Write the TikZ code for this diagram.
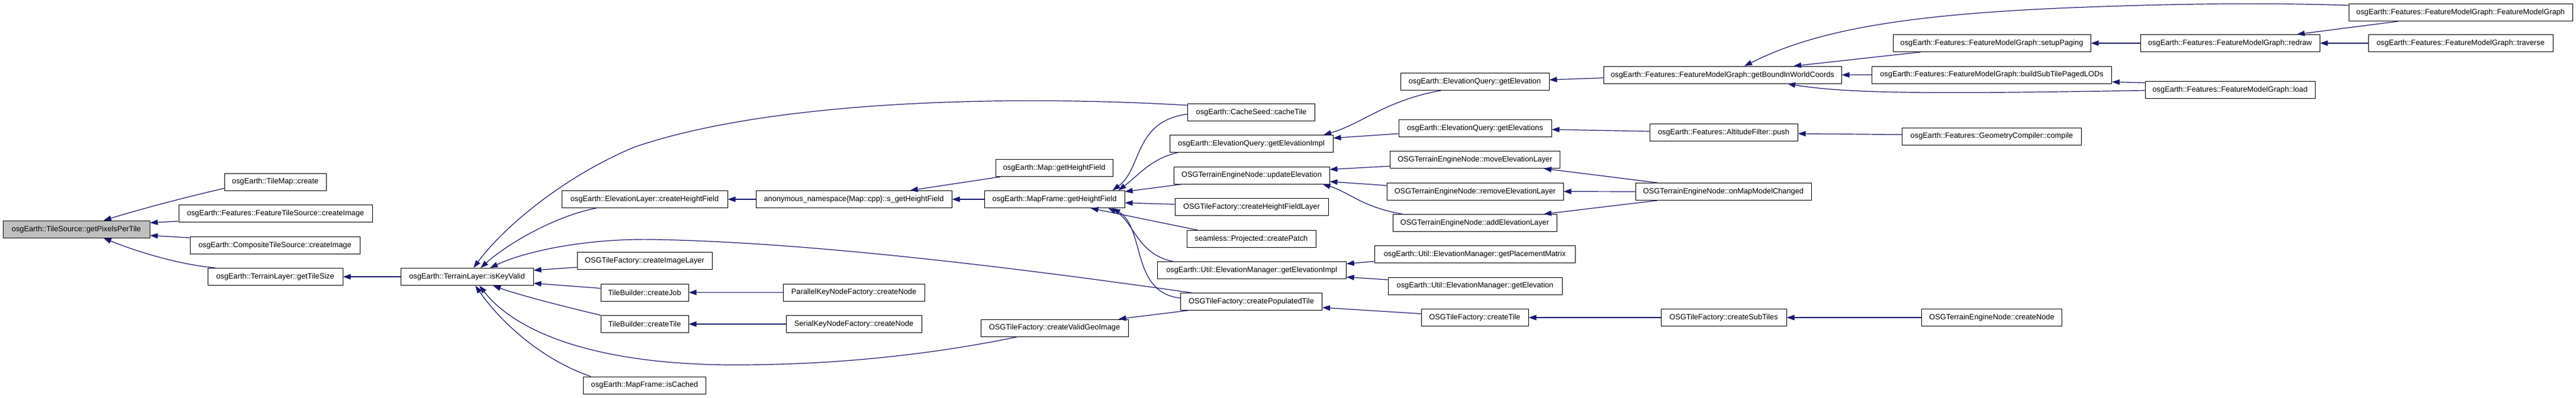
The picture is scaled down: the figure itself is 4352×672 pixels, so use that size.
\documentclass[tikz,border=0pt]{standalone}
\usepackage{fontspec}
\setmainfont{Liberation Sans}
\usetikzlibrary{arrows.meta,calc}
\definecolor{edgeblue}{HTML}{191970}
\definecolor{mainfill}{HTML}{BFBFBF}
\begin{document}
\begin{tikzpicture}[x=1pt,y=-1pt,
  fnbox/.style={draw=black, line width=1pt, fill=white, minimum height=29pt, inner sep=0pt, font=\fontsize{12.8}{15}\selectfont},
  edge/.style={draw=edgeblue, line width=1.2pt, arrows={Triangle[length=13pt,width=9pt]-}}]
\fill[white] (0,0) rectangle (4352,672);
\useasboundingbox (0,0) rectangle (4352,672);
% nodes
\node[fnbox, fill=mainfill, minimum width=248pt] (n0) at (129,387.7) {osgEarth::TileSource::getPixelsPerTile};
\node[fnbox, minimum width=172pt] (n1) at (465,307.5) {osgEarth::TileMap::create};
\node[fnbox, minimum width=327pt] (n2) at (465.5,361) {osgEarth::Features::FeatureTileSource::createImage};
\node[fnbox, minimum width=287pt] (n3) at (464.5,415) {osgEarth::CompositeTileSource::createImage};
\node[fnbox, minimum width=228pt] (n4) at (465,468) {osgEarth::TerrainLayer::getTileSize};
\node[fnbox, minimum width=224pt] (n5) at (789,468) {osgEarth::TerrainLayer::isKeyValid};
\node[fnbox, minimum width=280pt] (n6) at (1089,337) {osgEarth::ElevationLayer::createHeightField};
\node[fnbox, minimum width=331pt] (n7) at (1442.5,337) {anonymous\_namespace\{Map::cpp\}::s\_getHeightField};
\node[fnbox, minimum width=198pt] (n8) at (1781,284) {osgEarth::Map::getHeightField};
\node[fnbox, minimum width=237pt] (n9) at (1781.5,337) {osgEarth::MapFrame::getHeightField};
\node[fnbox, minimum width=228pt] (n10) at (1089,441) {OSGTileFactory::createImageLayer};
\node[fnbox, minimum width=148pt] (n11) at (1089,494.5) {TileBuilder::createJob};
\node[fnbox, minimum width=239pt] (n12) at (1442.5,494.5) {ParallelKeyNodeFactory::createNode};
\node[fnbox, minimum width=148pt] (n13) at (1089,548) {TileBuilder::createTile};
\node[fnbox, minimum width=229pt] (n14) at (1442.5,548) {SerialKeyNodeFactory::createNode};
\node[fnbox, minimum width=249pt] (n15) at (1781.5,554.5) {OSGTileFactory::createValidGeoImage};
\node[fnbox, minimum width=207pt] (n16) at (1089,651.5) {osgEarth::MapFrame::isCached};
\node[fnbox, minimum width=215pt] (n17) at (2114,190) {osgEarth::CacheSeed::cacheTile};
\node[fnbox, minimum width=276pt] (n18) at (2114,243) {osgEarth::ElevationQuery::getElevationImpl};
\node[fnbox, minimum width=263pt] (n19) at (2114.5,296.5) {OSGTerrainEngineNode::updateElevation};
\node[fnbox, minimum width=259pt] (n20) at (2114.5,350.4) {OSGTileFactory::createHeightFieldLayer};
\node[fnbox, minimum width=218pt] (n21) at (2114,404) {seamless::Projected::createPatch};
\node[fnbox, minimum width=319pt] (n22) at (2114.7,457) {osgEarth::Util::ElevationManager::getElevationImpl};
\node[fnbox, minimum width=239pt] (n23) at (2114,510) {OSGTileFactory::createPopulatedTile};
\node[fnbox, minimum width=251pt] (n24) at (2491.5,138) {osgEarth::ElevationQuery::getElevation};
\node[fnbox, minimum width=258pt] (n25) at (2492,217) {osgEarth::ElevationQuery::getElevations};
\node[fnbox, minimum width=287pt] (n26) at (2492,270) {OSGTerrainEngineNode::moveElevationLayer};
\node[fnbox, minimum width=298pt] (n27) at (2492,323.7) {OSGTerrainEngineNode::removeElevationLayer};
\node[fnbox, minimum width=277pt] (n28) at (2491.5,377) {OSGTerrainEngineNode::addElevationLayer};
\node[fnbox, minimum width=339pt] (n29) at (2491.5,430) {osgEarth::Util::ElevationManager::getPlacementMatrix};
\node[fnbox, minimum width=294pt] (n30) at (2492,483.5) {osgEarth::Util::ElevationManager::getElevation};
\node[fnbox, minimum width=181pt] (n31) at (2491.5,537) {OSGTileFactory::createTile};
\node[fnbox, minimum width=402pt] (n32) at (2910,126.7) {osgEarth::Features::FeatureModelGraph::getBoundInWorldCoords};
\node[fnbox, minimum width=250pt] (n33) at (2912,224) {osgEarth::Features::AltitudeFilter::push};
\node[fnbox, minimum width=297pt] (n34) at (2911.5,324) {OSGTerrainEngineNode::onMapModelChanged};
\node[fnbox, minimum width=212pt] (n35) at (2912,537) {OSGTileFactory::createSubTiles};
\node[fnbox, minimum width=334pt] (n36) at (3365,73) {osgEarth::Features::FeatureModelGraph::setupPaging};
\node[fnbox, minimum width=405pt] (n37) at (3365,126.5) {osgEarth::Features::FeatureModelGraph::buildSubTilePagedLODs};
\node[fnbox, minimum width=303pt] (n38) at (3365,230.6) {osgEarth::Features::GeometryCompiler::compile};
\node[fnbox, minimum width=237pt] (n39) at (3365,537) {OSGTerrainEngineNode::createNode};
\node[fnbox, minimum width=303pt] (n40) at (3767.5,73) {osgEarth::Features::FeatureModelGraph::redraw};
\node[fnbox, minimum width=287pt] (n41) at (3767.5,152) {osgEarth::Features::FeatureModelGraph::load};
\node[fnbox, minimum width=378pt] (n42) at (4157,21) {osgEarth::Features::FeatureModelGraph::FeatureModelGraph};
\node[fnbox, minimum width=312pt] (n43) at (4157,73) {osgEarth::Features::FeatureModelGraph::traverse};
% edges (arrow at callee)
\draw[edge] ($(n0.north)+(46,0)$) .. controls (250,350) and (320,332) .. ($(n1.west)+(0,11)$);
\draw[edge] ($(n0.east)+(0,-11)$) -- ($(n2.west)+(0,13)$);
\draw[edge] ($(n0.east)+(0,10.5)$) -- ($(n3.west)+(0,-13)$);
\draw[edge] ($(n0.south)+(46,0)$) .. controls (230,425) and (300,447) .. ($(n4.north)+(-101,0)$);
\draw[edge] (n4.east) -- (n5.west);
\draw[edge] ($(n5.north)+(11,0)$) .. controls (850,385) and (950,300) .. (1071,249) .. controls (1300,170) and (1700,160) .. ($(n17.west)+(0,-12)$);
\draw[edge] ($(n5.north)+(23,0)$) .. controls (860,410) and (940,365) .. ($(n6.south)+(-82,0)$);
\draw[edge] ($(n5.north)+(39,0)$) .. controls (880,428) and (980,403) .. (1103,405) .. controls (1400,410) and (1800,465) .. ($(n23.north)+(-101,0)$);
\draw[edge] ($(n5.east)+(0,-11)$) -- ($(n10.west)+(0,11)$);
\draw[edge] ($(n5.east)+(0,11)$) -- ($(n11.west)+(0,-7)$);
\draw[edge] ($(n5.south)+(44,0)$) .. controls (880,500) and (960,520) .. (n13.north west);
\draw[edge] ($(n5.south)+(21,0)$) .. controls (870,560) and (1000,615) .. (1230,617) .. controls (1450,618) and (1620,590) .. ($(n15.south)+(-62,0)$);
\draw[edge] ($(n5.south)+(14,0)$) .. controls (850,550) and (920,610) .. ($(n16.north)+(-91,0)$);
\draw[edge] (n6.east) -- (n7.west);
\draw[edge] ($(n7.north)+(95,0)$) -- ($(n8.south)+(-91,0)$);
\draw[edge] (n7.east) -- (n9.west);
\draw[edge] (n11.east) -- (n12.west);
\draw[edge] (n13.east) -- (n14.west);
\draw[edge] ($(n9.north)+(98,0)$) .. controls (1930,285) and (1915,205) .. ($(n17.west)+(0,3)$);
\draw[edge] ($(n9.north)+(108,0)$) .. controls (1925,295) and (1945,268) .. ($(n18.south)+(-124,0)$);
\draw[edge] ($(n9.east)+(0,-13)$) -- ($(n19.south)+(-117,0)$);
\draw[edge] ($(n9.east)+(0,6)$) -- ($(n20.west)+(0,-5)$);
\draw[edge] ($(n9.south)+(61,0)$) -- ($(n21.north)+(-91,0)$);
\draw[edge] ($(n9.south)+(91,0)$) .. controls (1915,372) and (1920,430) .. ($(n22.north)+(-133,0)$);
\draw[edge] ($(n9.south)+(98,0)$) .. controls (1935,385) and (1910,495) .. ($(n23.west)+(0,-6)$);
\draw[edge] ($(n15.north)+(108,0)$) -- ($(n23.south)+(-107,0)$);
\draw[edge] ($(n18.north)+(122,0)$) .. controls (2300,210) and (2340,170) .. ($(n24.south)+(-57,0)$);
\draw[edge] ($(n18.east)+(0,-9.5)$) -- ($(n25.west)+(0,9)$);
\draw[edge] ($(n19.east)+(0,-10)$) -- ($(n26.west)+(0,11)$);
\draw[edge] ($(n19.east)+(0,10.5)$) -- ($(n27.west)+(0,-10)$);
\draw[edge] ($(n19.south)+(120,0)$) .. controls (2280,325) and (2300,350) .. ($(n28.north)+(-122,0)$);
\draw[edge] ($(n26.south)+(116,0)$) -- ($(n34.north)+(-111.5,0)$);
\draw[edge] (n27.east) -- (n34.west);
\draw[edge] ($(n28.north)+(116.5,0)$) -- ($(n34.south)+(-111.5,0)$);
\draw[edge] ($(n22.east)+(0,-11)$) -- ($(n29.west)+(0,12)$);
\draw[edge] ($(n22.east)+(0,11.5)$) -- ($(n30.west)+(0,-10.5)$);
\draw[edge] ($(n23.east)+(0,10)$) -- ($(n31.west)+(0,-6.5)$);
\draw[edge] (n31.east) -- (n35.west);
\draw[edge] (n35.east) -- (n39.west);
\draw[edge] ($(n24.east)+(0,-3)$) -- ($(n32.west)+(0,5)$);
\draw[edge] ($(n25.east)+(0,2)$) -- ($(n33.west)+(0,-2)$);
\draw[edge] ($(n33.east)+(0,2)$) -- ($(n38.west)+(0,-3)$);
\draw[edge] ($(n32.north)+(37,0)$) .. controls (3060,55) and (3200,25) .. (3500,13) .. controls (3700,5) and (3850,5) .. ($(n42.west)+(0,-12)$);
\draw[edge] ($(n32.north)+(120,0)$) -- ($(n36.south)+(-120,0)$);
\draw[edge] (n32.east) -- (n37.west);
\draw[edge] ($(n32.south)+(110,0)$) .. controls (3130,160) and (3300,158) .. ($(n41.west)+(0,1)$);
\draw[edge] (n36.east) -- (n40.west);
\draw[edge] ($(n40.north)+(113,0)$) -- ($(n42.south)+(-105,0)$);
\draw[edge] (n40.east) -- (n43.west);
\draw[edge] ($(n37.east)+(0,12)$) -- ($(n41.west)+(0,-12)$);
\end{tikzpicture}
\end{document}
